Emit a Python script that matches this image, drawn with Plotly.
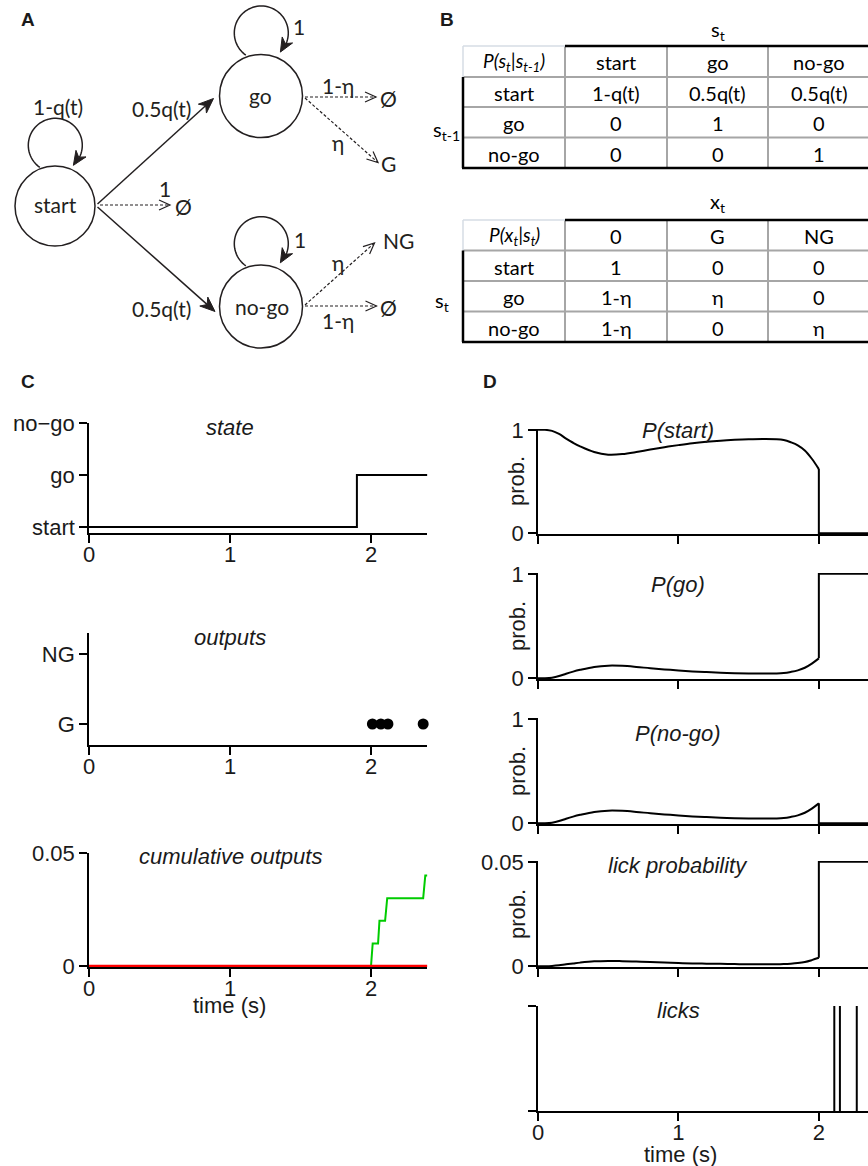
import math
import plotly.graph_objects as go

W, H = 868, 1166

# ------------------------------------------------------------------ data
time_ticks = [0, 1, 2]

# Panel C
state_names = ["start", "go", "no−go"]
state_t = [0.0, 1.9, 2.4]
state_idx = [0, 1, 1]

output_names = ["G", "NG"]
output_t = [2.01, 2.07, 2.12, 2.37]
output_idx = [1, 1, 1, 1]

cum_go_t = [0.0, 2.0, 2.012, 2.05, 2.06, 2.10, 2.115, 2.37, 2.385, 2.4]
cum_go_v = [0.0, 0.0, 0.01, 0.01, 0.02, 0.02, 0.03, 0.03, 0.04, 0.04]
cum_nogo_t = [0.0, 2.4]
cum_nogo_v = [0.0, 0.0]

# Panel D (belief before the go-cue detection, then after)
belief_t = [0, 0.05, 0.1, 0.15, 0.2, 0.25, 0.3, 0.4, 0.5, 0.6, 0.7, 0.8, 0.9,
            1.0, 1.1, 1.2, 1.3, 1.4, 1.5, 1.6, 1.7, 1.75, 1.8, 1.85, 1.9, 1.95, 2.0]
p_start = [1, 1, 0.99, 0.96, 0.915, 0.875, 0.84, 0.785, 0.76, 0.765, 0.785, 0.81, 0.832,
           0.852, 0.87, 0.884, 0.895, 0.903, 0.909, 0.912, 0.91, 0.902, 0.88, 0.85, 0.8, 0.72, 0.62]
p_go = [0, 0, 0.005, 0.02, 0.043, 0.063, 0.08, 0.108, 0.12, 0.118, 0.108, 0.095, 0.084,
        0.074, 0.065, 0.058, 0.052, 0.048, 0.045, 0.044, 0.045, 0.049, 0.06, 0.075, 0.1, 0.14, 0.19]
p_nogo = [0, 0, 0.005, 0.02, 0.043, 0.063, 0.08, 0.108, 0.12, 0.118, 0.108, 0.095, 0.084,
          0.074, 0.065, 0.058, 0.052, 0.048, 0.045, 0.044, 0.045, 0.049, 0.06, 0.075, 0.1, 0.14, 0.19]
p_lick = [0, 0, 0.0001, 0.0004, 0.0009, 0.0013, 0.0017, 0.0023, 0.0025, 0.0024, 0.0022, 0.002, 0.0017,
          0.0015, 0.0013, 0.0012, 0.0011, 0.001, 0.0009, 0.0009, 0.0009, 0.001, 0.0012, 0.0015, 0.002, 0.0029, 0.004]
after_t = [2.0, 2.35]
after_start = [0, 0]
after_go = [1, 1]
after_nogo = [0, 0]
after_lick = [0.05, 0.05]

lick_times = [2.11, 2.15, 2.27]

# Panel B tables
trans_cols = ["start", "go", "no-go"]
trans_rows = [["start", "1-q(t)", "0.5q(t)", "0.5q(t)"],
              ["go", "0", "1", "0"],
              ["no-go", "0", "0", "1"]]
emit_cols = ["0", "G", "NG"]
emit_rows = [["start", "1", "0", "0"],
             ["go", "1-η", "η", "0"],
             ["no-go", "1-η", "0", "η"]]

# ------------------------------------------------------------------ helpers
def px(x):
    return x / W


def py(y):
    return 1 - y / H


def xdom(a, b):
    return [a / W, b / W]


def ydom(top, bot):
    return [1 - bot / H, 1 - top / H]


ARIAL = "Arial, Liberation Sans, sans-serif"
DIAG = "Lato, Open Sans, sans-serif"
INK = "#231f20"
TXT = "#1a1a1a"

shapes = []
annotations = []


def ann(x, y, text, size=22, font=ARIAL, color=TXT, xref="paper", **kw):
    annotations.append(dict(x=x if xref != "paper" else px(x), y=py(y), xref=xref, yref="paper",
                            text=text, showarrow=False, xanchor=kw.pop("xanchor", "center"),
                            yanchor=kw.pop("yanchor", "middle"),
                            font=dict(family=font, size=size, color=color), **kw))


def line(x0, y0, x1, y1, color=INK, width=1.5, dash=None):
    ln = dict(color=color, width=width)
    if dash:
        ln["dash"] = dash
    shapes.append(dict(type="line", xref="paper", yref="paper", x0=px(x0), y0=py(y0),
                       x1=px(x1), y1=py(y1), line=ln, layer="above"))


def path(pts, closed=False, fill=None, color=INK, width=1.5):
    d = "M " + " L ".join(f"{px(x):.5f},{py(y):.5f}" for x, y in pts)
    if closed:
        d += " Z"
    s = dict(type="path", xref="paper", yref="paper", path=d,
             line=dict(color=color, width=width), layer="above")
    if fill:
        s["fillcolor"] = fill
    shapes.append(s)


def circle(cx, cy, r, width=1.5):
    shapes.append(dict(type="circle", xref="paper", yref="paper",
                       x0=px(cx - r), x1=px(cx + r), y0=py(cy + r), y1=py(cy - r),
                       line=dict(color=INK, width=width), layer="above"))


def filled_head(sx, sy, tx, ty, L=15, w=6):
    dx, dy = tx - sx, ty - sy
    n = math.hypot(dx, dy)
    ux, uy = dx / n, dy / n
    nx, ny = -uy, ux
    bx, by = tx - L * ux, ty - L * uy
    path([(tx, ty), (bx + w * nx, by + w * ny), (tx - 0.7 * L * ux, ty - 0.7 * L * uy),
          (bx - w * nx, by - w * ny)], closed=True, fill=INK, width=1)


def open_head(sx, sy, tx, ty, L=11, w=5):
    dx, dy = tx - sx, ty - sy
    n = math.hypot(dx, dy)
    ux, uy = dx / n, dy / n
    nx, ny = -uy, ux
    bx, by = tx - L * ux, ty - L * uy
    path([(bx + w * nx, by + w * ny), (tx, ty), (bx - w * nx, by - w * ny)], width=1.2)


def solid_arrow(sx, sy, tx, ty):
    dx, dy = tx - sx, ty - sy
    n = math.hypot(dx, dy)
    line(sx, sy, tx - 10 * dx / n, ty - 10 * dy / n, width=1.5)
    filled_head(sx, sy, tx, ty)


def dashed_arrow(sx, sy, tx, ty):
    line(sx, sy, tx, ty, width=1.2, dash="3px,2px")
    open_head(sx, sy, tx, ty)


def loop(cx, cy, r, a0, a1):
    pts = []
    n = 60
    for i in range(n + 1):
        a = math.radians(a0 + (a1 - 8 - a0) * i / n)
        pts.append((cx + r * math.cos(a), cy + r * math.sin(a)))
    path(pts, width=1.5)
    ae = math.radians(a1)
    ab = math.radians(a1 - 30)
    tx, ty = cx + r * math.cos(ae), cy + r * math.sin(ae)
    sx, sy = cx + r * math.cos(ab), cy + r * math.sin(ab)
    filled_head(sx, sy, tx, ty, L=14, w=6)


# ------------------------------------------------------------------ panel A
circle(55, 206, 40)
circle(261, 96, 41.5)
circle(261, 306.5, 41.5)
loop(55.3, 145.3, 27, 125, 408)
loop(261.3, 33, 27, 125, 405)
loop(261.3, 243.7, 27, 125, 405)
solid_arrow(97.5, 204, 213.5, 98.5)
solid_arrow(97.5, 207, 215, 311.5)
dashed_arrow(100, 205, 170, 205)
dashed_arrow(305, 97, 376, 97)
dashed_arrow(305, 98, 378, 162.5)
dashed_arrow(305, 305, 374.5, 243)
dashed_arrow(305, 306, 376.5, 306)

dsz = 21
for (x, y, t) in [(58, 107, "1-q(t)"), (161, 108.5, "0.5q(t)"), (161, 308.5, "0.5q(t)"),
                  (164.5, 188.5, "1"), (183, 206.5, "Ø"), (260, 96, "go"), (55, 204.5, "start"),
                  (261.5, 306, "no-go"), (298.5, 26.5, "1"), (299.5, 239.5, "1"),
                  (337.5, 86, "1-η"), (388, 98.5, "Ø"), (337.5, 142, "η"), (388.5, 163.5, "G"),
                  (337.5, 262, "η"), (398.5, 240, "NG"), (337.5, 321, "1-η"), (388, 307, "Ø")]:
    ann(x, y, t, size=dsz, font=DIAG, color=INK)

# ------------------------------------------------------------------ panel B
col_x = [463, 565, 667, 768, 870]
col_c = [(col_x[i] + col_x[i + 1]) / 2 for i in range(4)]
GRAY = "#a6a6a6"
LIGHT = "#d6dce5"
TSZ = 20


def table(rows_y, header_cell, cols, rows, top_label, side_label, top_y, side_xy):
    y0, y4 = rows_y[0], rows_y[-1]
    for yy in rows_y[1:-1]:
        line(col_x[0], yy, col_x[-1], yy, color=GRAY, width=2)
    for xx in col_x[1:-1]:
        line(xx, y0, xx, y4, color=GRAY, width=2)
    line(col_x[0], y0, col_x[1], y0, color=LIGHT, width=1.5)
    line(col_x[0], y0, col_x[0], rows_y[1], color=LIGHT, width=1.5)
    line(col_x[1], y0, col_x[-1], y0, color="black", width=2.5)
    line(col_x[0], rows_y[1], col_x[0], y4, color="black", width=2.5)
    line(col_x[0] - 1, y4, col_x[-1], y4, color="black", width=2.5)
    line(col_x[-1], y0, col_x[-1], y4, color="black", width=2.5)
    rc = [(rows_y[i] + rows_y[i + 1]) / 2 for i in range(4)]
    ann(col_c[0], rc[0] + 1, header_cell, size=TSZ - 1, font=DIAG, color="black")
    for j, c in enumerate(cols):
        ann(col_c[j + 1], rc[0] + 1, c, size=TSZ, font=DIAG, color="black")
    for i, r in enumerate(rows):
        for j, c in enumerate(r):
            ann(col_c[j], rc[i + 1] + 1, c, size=TSZ, font=DIAG, color="black")
    ann(col_c[2], top_y, top_label, size=TSZ, font=DIAG, color="black")
    ann(side_xy[0], side_xy[1], side_label, size=TSZ, font=DIAG, color="black")


table([46, 77, 107, 137.5, 168], "<i>P(s<sub>t</sub>|s<sub>t-1</sub>)</i>", trans_cols, trans_rows,
      "s<sub>t</sub>", "s<sub>t-1</sub>", 30, (446, 130))
table([220, 250.5, 281, 311.5, 342], "<i>P(x<sub>t</sub>|s<sub>t</sub>)</i>", emit_cols, emit_rows,
      "x<sub>t</sub>", "s<sub>t</sub>", 203, (442, 302))

# ------------------------------------------------------------------ panel labels
for (x, y, t) in [(28, 20, "A"), (447, 20, "B"), (28, 381, "C"), (490, 381, "D")]:
    ann(x, y, f"<b>{t}</b>", size=19)

# ------------------------------------------------------------------ axes
fig = go.Figure()

ax_style = dict(showline=True, linecolor="black", linewidth=1.5, ticks="outside", ticklen=8,
                tickwidth=1.5, tickcolor="black", showgrid=False, zeroline=False, automargin=False,
                layer="below traces",
                tickfont=dict(family=ARIAL, size=22, color=TXT), fixedrange=True)

layout_axes = {}
C_X = (89, 427.4)
D_X = (538, 868)
panels = [
    ("", C_X, (423, 533), [0, 2.4], [-0.115, 2.0], [0, 1, 2], state_names, True),
    ("2", C_X, (633, 745), [0, 2.4], [0.7, 2.3], [1, 2], output_names, True),
    ("3", C_X, (853, 967), [0, 2.4], [-0.0004, 0.05], [0, 0.05], ["0", "0.05"], True),
    ("4", D_X, (429, 534), [0, 2.35], [-0.008, 1.008], [0, 1], ["0", "1"], False),
    ("5", D_X, (573, 679), [0, 2.35], [-0.008, 1.008], [0, 1], ["0", "1"], False),
    ("6", D_X, (718, 824), [0, 2.35], [-0.008, 1.008], [0, 1], ["0", "1"], False),
    ("7", D_X, (861, 967), [0, 2.35], [-0.0004, 0.0504], [0, 0.05], ["0", "0.05"], False),
    ("8", D_X, (1006, 1111), [0, 2.35], [0, 1.0], [0, 1], ["", ""], True),
]
for name, xd, yd, xr, yr, yt, ytt, showx in panels:
    layout_axes["xaxis" + name] = dict(ax_style, domain=xdom(*xd), range=xr, anchor="y" + name,
                                       tickvals=time_ticks, ticktext=[str(v) for v in time_ticks],
                                       showticklabels=showx, ticklabelstandoff=-7)
    layout_axes["yaxis" + name] = dict(ax_style, domain=ydom(*yd), range=yr, anchor="x" + name,
                                       tickvals=yt, ticktext=ytt)


def tr(name, x, y, color="black", width=2, shape="linear", mode="lines", **kw):
    fig.add_trace(go.Scatter(x=x, y=y, mode=mode, xaxis="x" + name, yaxis="y" + name,
                             line=dict(color=color, width=width, shape=shape),
                             showlegend=False, hoverinfo="skip", **kw))


tr("", state_t, state_idx, shape="hv")
fig.add_trace(go.Scatter(x=output_t, y=output_idx, mode="markers", xaxis="x2", yaxis="y2",
                         marker=dict(color="black", size=11), showlegend=False, hoverinfo="skip",
                         cliponaxis=False))
tr("3", cum_go_t, cum_go_v, color="#00cc00", width=2)
tr("3", cum_nogo_t, cum_nogo_v, color="#ff0000", width=2.5)

for name, before, after in [("4", p_start, after_start), ("5", p_go, after_go),
                            ("6", p_nogo, after_nogo), ("7", p_lick, after_lick)]:
    tr(name, belief_t, before, shape="spline")
    tr(name, [belief_t[-1]] + after_t, [before[-1]] + after)

lx, ly = [], []
for t in lick_times:
    lx += [t, t, None]
    ly += [0, 1, None]
tr("8", lx, ly, width=2)

for xa, y, t in [("x", 427, "state"), ("x2", 637, "outputs"), ("x3", 856, "cumulative outputs"),
                 ("x4", 430, "P(start)"), ("x5", 584, "P(go)"), ("x6", 733, "P(no-go)"),
                 ("x7", 865, "lick probability"), ("x8", 1010, "licks")]:
    ann(1, y, f"<i>{t}</i>", xref=xa)

for y in [481, 626, 771, 914]:
    ann(517, y, "prob.", textangle=-90)

ann(229, 1005, "time (s)")
ann(680, 1154, "time (s)")

fig.update_layout(width=W, height=H, margin=dict(l=0, r=0, t=0, b=0, autoexpand=False),
                  paper_bgcolor="white", plot_bgcolor="rgba(0,0,0,0)",
                  shapes=shapes, annotations=annotations, **layout_axes)
fig.write_html("out.html", config={"displayModeBar": False},
               post_script="document.body.style.margin='0';document.body.style.overflow='hidden';")
